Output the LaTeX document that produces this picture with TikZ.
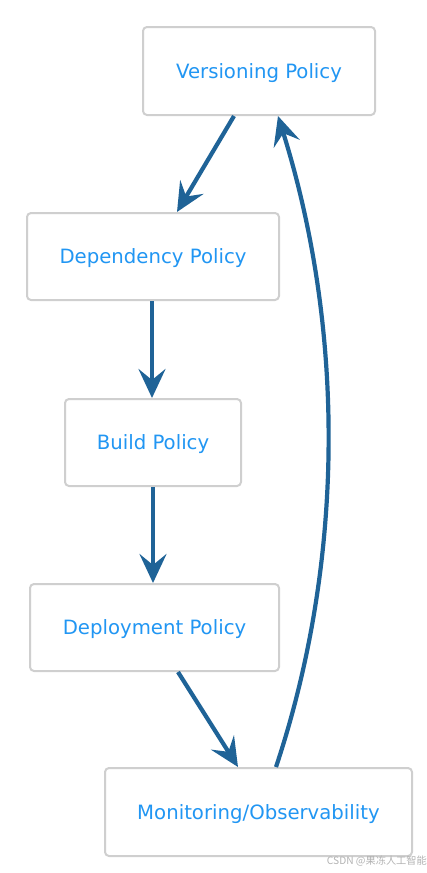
\documentclass[tikz,border=0pt]{standalone}
\usepackage{fontspec}
\setmainfont{DejaVu Sans}
\newfontfamily\cjk{Noto Sans CJK SC}
\usetikzlibrary{arrows.meta}
\definecolor{txtblue}{HTML}{2196F3}
\definecolor{arrblue}{HTML}{1F6397}
\definecolor{boxgray}{HTML}{CFCFCF}
\tikzset{
  policy/.style={draw=boxgray, line width=2pt, rounded corners=4pt, fill=white,
    text=txtblue, font=\fontsize{19.7}{23}\selectfont, inner sep=0pt,
    text height=14.5pt, text depth=0pt},
  flow/.style={draw=arrblue, line width=4.2pt,
    -{Stealth[length=29pt, width=27pt, inset=11pt]}, shorten >=0pt}
}
\begin{document}
\begin{tikzpicture}[x=1pt,y=-1pt]
\useasboundingbox (0,0) rectangle (427,873);
\node[policy, minimum width=232pt, minimum height=88pt] (v) at (259,71) {Versioning Policy};
\node[policy, minimum width=252pt, minimum height=87pt] (d) at (153,256.5) {Dependency Policy};
\node[policy, minimum width=176pt, minimum height=87pt] (b) at (153,442.5) {Build Policy};
\node[policy, minimum width=249pt, minimum height=87pt] (p) at (154.5,627.5) {Deployment Policy};
\node[policy, minimum width=307pt, minimum height=88pt] (m) at (258.5,812) {Monitoring/Observability};
\draw[flow] (v.south -| 234,0) -- (d.north -| 177,0);
\draw[flow] (d.south -| 152,0) -- (b.north -| 152,0);
\draw[flow] (b.south -| 153,0) -- (p.north -| 153,0);
\draw[flow] (p.south -| 178,0) -- (m.north -| 238,0);
\draw[flow] (m.north -| 276,0) .. controls (345,560) and (345,330) .. (v.south -| 278,0);
\node[anchor=east, text=gray!60, font=\cjk\fontsize{10.2}{12}\selectfont, inner sep=0pt] (wm) at (427,861) {CSDN @果冻人工智能};
\end{tikzpicture}
\end{document}
